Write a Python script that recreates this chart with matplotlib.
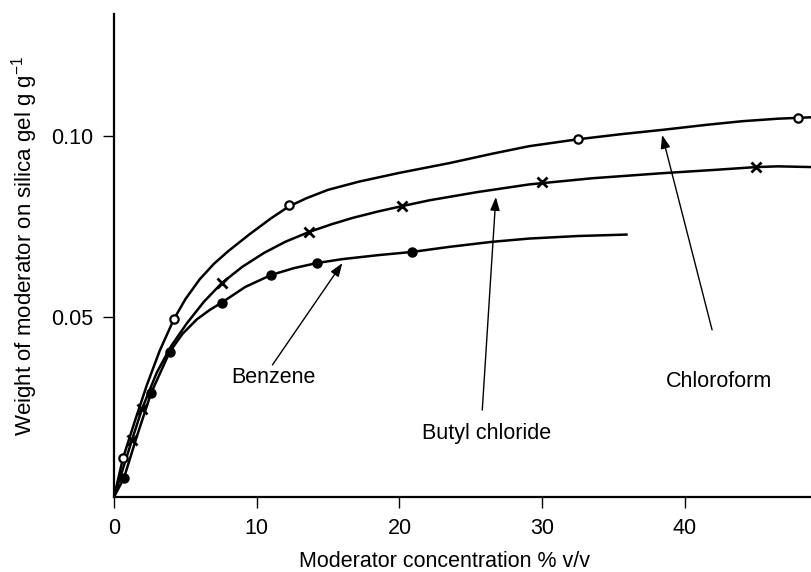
import matplotlib
matplotlib.use('Agg')
import matplotlib.pyplot as plt

plt.rcParams['font.family'] = ['Liberation Sans', 'DejaVu Sans']
plt.rcParams['mathtext.fontset'] = 'custom'
plt.rcParams['mathtext.rm'] = 'Liberation Sans'

# measured points (moderator % v/v, weight g/g)
chloro_x = [0.63, 4.2, 12.25, 32.5, 47.9]
chloro_y = [0.0108, 0.0493, 0.0809, 0.0992, 0.1050]
butyl_x = [1.26, 1.96, 7.56, 13.65, 20.2, 30.0, 45.0]
butyl_y = [0.0158, 0.0244, 0.0593, 0.0734, 0.0806, 0.0873, 0.0914]
benz_x = [0.7, 2.6, 3.9, 7.6, 11.0, 14.2, 20.9]
benz_y = [0.0053, 0.0288, 0.0402, 0.0537, 0.0615, 0.0648, 0.0679]

# hand drawn curves
chloro_cx = [0, 0.63, 1.5, 2.3, 3.2, 4.2, 5.0, 6.0, 7.0, 8.0, 9.5, 11.0, 12.25,
             13.5, 15, 17.2, 20, 23.5, 26.5, 29.1, 32.5, 35.5, 38.4, 41.5,
             44.0, 46.5, 48.9]
chloro_cy = [0, 0.0108, 0.0215, 0.031, 0.0405, 0.0493, 0.0548, 0.0603, 0.0646,
             0.0681, 0.0728, 0.0772, 0.0805, 0.0828, 0.0851, 0.0874, 0.0898,
             0.0925, 0.0951, 0.0972, 0.0991, 0.1005, 0.1017, 0.1031, 0.1041,
             0.1048, 0.1052]
butyl_cx = [0, 1.26, 1.96, 3.0, 4.0, 5.1, 6.3, 7.56, 9.0, 10.5, 12.0, 13.65,
            15.2, 16.7, 18.5, 20.2, 22.1, 25.5, 29.1, 33.5, 38.4, 42.0, 45.0,
            46.5, 48.9]
butyl_cy = [0, 0.0158, 0.0244, 0.0345, 0.0418, 0.0481, 0.0541, 0.0593, 0.0638,
            0.0676, 0.0707, 0.0734, 0.0755, 0.0773, 0.0791, 0.0806, 0.0822,
            0.0845, 0.0866, 0.0883, 0.0897, 0.0906, 0.0914, 0.0916, 0.0914]
benz_cx = [0, 0.7, 1.6, 2.6, 3.9, 4.8, 5.8, 6.7, 7.6, 9.2, 11.0, 12.6, 14.2,
           16.0, 18.5, 20.9, 23.5, 26.5, 29.1, 32.5, 35.9]
benz_cy = [0, 0.0053, 0.0168, 0.0288, 0.0402, 0.0452, 0.0492, 0.0518, 0.054,
           0.0582, 0.0615, 0.0634, 0.0648, 0.0659, 0.067, 0.0679, 0.0693,
           0.0707, 0.0716, 0.0723, 0.0727]

# labels: name, text position, arrow tail, arrow tip
labels = ['Benzene', 'Butyl chloride', 'Chloroform']
label_xy = [(11.2, 0.0332), (26.1, 0.0175), (42.4, 0.0319)]
tail_xy = [(11.1, 0.0366), (25.8, 0.0241), (41.9, 0.0463)]
tip_xy = [(16.0, 0.0648), (26.75, 0.0831), (38.4, 0.1003)]

fig = plt.figure(figsize=(8.12, 5.72), dpi=100)
ax = fig.add_axes([0.1404, 0.1311, 0.8596, 0.8444])

ax.plot(chloro_cx, chloro_cy, color='black', lw=1.8, solid_joinstyle='round')
ax.plot(butyl_cx, butyl_cy, color='black', lw=1.8, solid_joinstyle='round')
ax.plot(benz_cx, benz_cy, color='black', lw=1.8, solid_joinstyle='round')

ax.plot(chloro_x, chloro_y, 'o', ms=6, mfc='white', mec='black', mew=1.6)
ax.plot(butyl_x, butyl_y, 'x', ms=7, color='black', mew=2)
ax.plot(benz_x, benz_y, 'o', ms=6.5, color='black')

for name, txy, a, b in zip(labels, label_xy, tail_xy, tip_xy):
    ax.text(txy[0], txy[1], name, ha='center', va='center', fontsize=15.5)
    ax.annotate('', xy=b, xytext=a,
                arrowprops=dict(arrowstyle='-|>,head_length=0.5,head_width=0.18',
                                color='black', lw=1, mutation_scale=16,
                                shrinkA=0, shrinkB=0))

ax.set_xlim(0, 48.9)
ax.set_ylim(0, 0.1338)
ax.set_xticks([0, 10, 20, 30, 40])
ax.set_yticks([0.05, 0.10])
ax.set_yticklabels(['0.05', '0.10'])

for s in ['top', 'right']:
    ax.spines[s].set_visible(False)
for s in ['left', 'bottom']:
    ax.spines[s].set_linewidth(1.6)

ax.tick_params(direction='out', length=8, width=1, pad=7, labelsize=15.5)

ax.set_xlabel('Moderator concentration % v/v', fontsize=15.5, va='center')
ax.xaxis.set_label_coords(0.474, -0.1325)
ax.set_ylabel('Weight of moderator on silica gel g g$^{-1}$', fontsize=16,
              va='center')
ax.yaxis.set_label_coords(-0.1275, 0.52)

fig.savefig('out.png', dpi=100)
